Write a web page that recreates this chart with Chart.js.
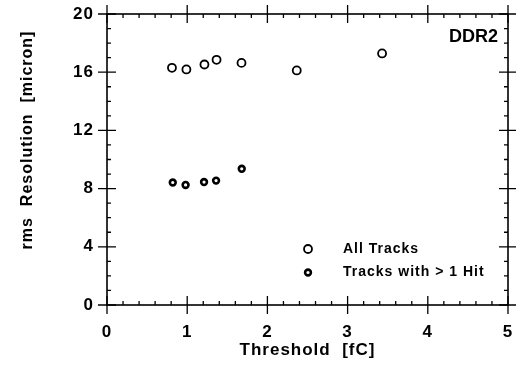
<!DOCTYPE html>
<html>
<head>
<meta charset="utf-8">
<script src="https://cdn.jsdelivr.net/npm/chart.js@4/dist/chart.umd.min.js"></script>
<style>
  html, body { margin: 0; padding: 0; background: #fff; }
  canvas { display: block; }
</style>
</head>
<body>
<canvas id="chart" width="516" height="367"></canvas>
<script>
// threshold values (fC) and rms resolution (micron)
const allTracksX = [0.81, 0.99, 1.215, 1.366, 1.677, 2.366, 3.43];
const allTracksY = [16.30, 16.19, 16.53, 16.85, 16.64, 16.12, 17.29];
const multiHitX = [0.82, 0.98, 1.21, 1.36, 1.68];
const multiHitY = [8.42, 8.25, 8.45, 8.55, 9.36];

const xTicks = [0, 1, 2, 3, 4, 5];
const yTicks = [0, 4, 8, 12, 16, 20];
const seriesNames = ['All Tracks', 'Tracks with > 1 Hit'];

const FONT = '"Liberation Sans", Arial, sans-serif';

const toPoints = (xs, ys) => xs.map((x, i) => ({ x: x, y: ys[i] }));

// no extra room for label overflow, the layout padding decides the frame
function noOverflow(scale) {
    scale.paddingLeft = 0;
    scale.paddingRight = 0;
    scale.paddingTop = 0;
    scale.paddingBottom = 0;
}

// box, major ticks crossing the frame and small inward minor ticks
const framePlugin = {
    id: 'frame',
    beforeDraw(chart) {
        chart.ctx.letterSpacing = '1px';
    },
    beforeDatasetsDraw(chart) {
        const { ctx, chartArea: a, scales: { x, y } } = chart;
        ctx.save();
        ctx.strokeStyle = '#000';
        ctx.lineWidth = 1.6;
        ctx.strokeRect(a.left, a.top, a.right - a.left, a.bottom - a.top);
        ctx.lineWidth = 1.3;
        ctx.beginPath();
        for (let i = 0; i <= 25; i++) {
            const px = x.getPixelForValue(i / 5);
            const len = i % 5 === 0 ? 9 : 4;
            const out = i % 5 === 0 ? 9 : 0;
            ctx.moveTo(px, a.bottom + out); ctx.lineTo(px, a.bottom - len);
            ctx.moveTo(px, a.top - out); ctx.lineTo(px, a.top + len);
        }
        for (let i = 0; i <= 20; i++) {
            const py = y.getPixelForValue(i);
            const len = i % 4 === 0 ? 9 : 4;
            const out = i % 4 === 0 ? 9 : 0;
            ctx.moveTo(a.left - out, py); ctx.lineTo(a.left + len, py);
            ctx.moveTo(a.right + out, py); ctx.lineTo(a.right - len, py);
        }
        ctx.stroke();
        ctx.restore();
    },
    afterDraw(chart) {
        const { ctx, chartArea: a } = chart;
        const ds = chart.data.datasets;
        ctx.save();
        ctx.letterSpacing = '1px';
        ctx.fillStyle = '#000';

        // y axis title
        ctx.save();
        ctx.translate(28, 140);
        ctx.rotate(-Math.PI / 2);
        ctx.font = 'bold 16px ' + FONT;
        ctx.textAlign = 'center';
        ctx.textBaseline = 'middle';
        ctx.fillText('rms  Resolution  [micron]', 0, 0);
        ctx.restore();

        // label in the corner
        ctx.letterSpacing = '0px';
        ctx.font = 'bold 18px ' + FONT;
        ctx.textAlign = 'right';
        ctx.textBaseline = 'middle';
        ctx.fillText('DDR2', a.right - 10, 37);

        // legend
        ctx.letterSpacing = '1px';
        ctx.font = 'bold 14px ' + FONT;
        ctx.textAlign = 'left';
        const rows = [249, 272.5];
        ds.forEach((d, i) => {
            ctx.beginPath();
            ctx.arc(308, rows[i], d.pointRadius, 0, Math.PI * 2);
            ctx.fillStyle = d.backgroundColor;
            ctx.fill();
            ctx.lineWidth = d.borderWidth;
            ctx.strokeStyle = d.borderColor;
            ctx.stroke();
            ctx.fillStyle = '#000';
            ctx.fillText(d.label, 343, rows[i]);
        });
        ctx.restore();
    }
};

new Chart(document.getElementById('chart'), {
    type: 'scatter',
    data: {
        datasets: [{
            label: seriesNames[0],
            data: toPoints(allTracksX, allTracksY),
            pointStyle: 'circle',
            pointRadius: 4,
            borderWidth: 1.8,
            borderColor: '#000',
            backgroundColor: '#fff'
        }, {
            label: seriesNames[1],
            data: toPoints(multiHitX, multiHitY),
            pointStyle: 'circle',
            pointRadius: 2.9,
            borderWidth: 2.6,
            borderColor: '#000',
            backgroundColor: '#fff'
        }]
    },
    options: {
        responsive: false,
        animation: false,
        events: [],
        layout: { padding: { top: 14, right: 8, left: 0, bottom: 0 } },
        plugins: {
            legend: { display: false },
            tooltip: { enabled: false }
        },
        scales: {
            x: {
                type: 'linear',
                min: 0,
                max: 5,
                afterFit(scale) { scale.height = 62; noOverflow(scale); },
                afterBuildTicks(scale) { scale.ticks = xTicks.map(v => ({ value: v })); },
                grid: { display: false, drawTicks: false },
                border: { display: false },
                ticks: {
                    padding: 17,
                    color: '#000',
                    font: { family: FONT, size: 17, weight: 'bold' }
                },
                title: {
                    display: true,
                    text: 'Threshold  [fC]',
                    color: '#000',
                    padding: { top: 0, bottom: 6 },
                    font: { family: FONT, size: 17, weight: 'bold' }
                }
            },
            y: {
                type: 'linear',
                min: 0,
                max: 20,
                afterFit(scale) { scale.width = 107; noOverflow(scale); },
                afterBuildTicks(scale) { scale.ticks = yTicks.map(v => ({ value: v })); },
                grid: { display: false, drawTicks: false },
                border: { display: false },
                ticks: {
                    padding: 13,
                    color: '#000',
                    font: { family: FONT, size: 17, weight: 'bold' }
                }
            }
        }
    },
    plugins: [framePlugin]
});
</script>
</body>
</html>
